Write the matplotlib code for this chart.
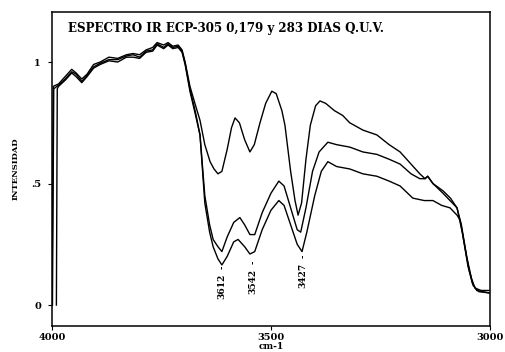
import numpy as np
import matplotlib.pyplot as plt

# wavenumber (cm-1) and intensity
wn_left_a = [4000, 3997, 3985, 3970, 3955, 3945, 3932, 3920, 3905, 3890,
             3870, 3850, 3830, 3815, 3800, 3785, 3770, 3760, 3745, 3735,
             3724, 3712, 3703, 3696, 3685, 3672, 3662]
y_left_a = [0.02, 0.90, 0.91, 0.94, 0.97, 0.955, 0.93, 0.95, 0.99, 1.00,
            1.02, 1.015, 1.03, 1.035, 1.03, 1.05, 1.06, 1.08, 1.07, 1.08,
            1.065, 1.07, 1.05, 1.00, 0.90, 0.82, 0.76]
wn_left_b = [3990, 3988, 3985, 3970, 3955, 3945, 3932, 3920, 3905, 3890,
             3870, 3850, 3830, 3815, 3800, 3785, 3770, 3760, 3745, 3735,
             3724, 3712, 3703, 3696, 3685, 3672, 3662]
y_left_b = [0.0, 0.89, 0.90, 0.925, 0.955, 0.94, 0.915, 0.94, 0.975, 0.99,
            1.005, 1.00, 1.02, 1.02, 1.015, 1.04, 1.045, 1.07, 1.055, 1.07,
            1.055, 1.06, 1.04, 0.99, 0.88, 0.78, 0.70]
wn_left_c = [3999, 3996, 3985, 3970, 3955, 3945, 3932, 3920, 3905, 3890,
             3870, 3850, 3830, 3815, 3800, 3785, 3770, 3760, 3745, 3735,
             3724, 3712, 3703, 3696, 3685, 3672, 3662]
y_left_c = [0.0, 0.89, 0.905, 0.93, 0.96, 0.95, 0.92, 0.945, 0.98, 0.995,
            1.01, 1.01, 1.025, 1.03, 1.02, 1.045, 1.05, 1.075, 1.06, 1.075,
            1.06, 1.065, 1.045, 0.995, 0.89, 0.79, 0.70]

wn_a = [3651, 3639, 3630, 3621, 3612, 3600, 3590, 3582, 3572, 3560,
        3548, 3538, 3525, 3512, 3498, 3488, 3475, 3468, 3455, 3445,
        3438, 3430, 3420, 3410, 3398, 3388, 3375, 3355, 3336, 3320,
        3290, 3258, 3230, 3205, 3180, 3160, 3148, 3142, 3130, 3107,
        3091, 3075, 3065, 3053, 3042, 3034, 3020, 3002]
y_a = [0.66, 0.59, 0.56, 0.54, 0.55, 0.64, 0.73, 0.77, 0.75, 0.68,
       0.63, 0.66, 0.75, 0.83, 0.88, 0.87, 0.80, 0.74, 0.55, 0.43,
       0.37, 0.42, 0.60, 0.74, 0.82, 0.84, 0.83, 0.80, 0.78, 0.75,
       0.72, 0.70, 0.66, 0.63, 0.58, 0.54, 0.52, 0.53, 0.50, 0.46,
       0.43, 0.40, 0.33, 0.20, 0.11, 0.07, 0.06, 0.06]

wn_b = [3651, 3640, 3632, 3621, 3612, 3600, 3585, 3571, 3560, 3548,
        3537, 3520, 3500, 3482, 3470, 3455, 3440, 3432, 3420, 3405,
        3390, 3370, 3350, 3320, 3290, 3258, 3230, 3205, 3180, 3160,
        3148, 3142, 3130, 3107, 3090, 3075, 3063, 3050, 3040, 3030, 3002]
y_b = [0.45, 0.33, 0.27, 0.24, 0.22, 0.28, 0.34, 0.36, 0.33, 0.29,
       0.29, 0.38, 0.46, 0.51, 0.49, 0.40, 0.31, 0.30, 0.40, 0.55,
       0.63, 0.67, 0.66, 0.65, 0.63, 0.62, 0.60, 0.58, 0.54, 0.52,
       0.52, 0.53, 0.50, 0.47, 0.44, 0.40, 0.30, 0.16, 0.09, 0.06, 0.05]

wn_c = [3651, 3640, 3632, 3621, 3612, 3600, 3585, 3575, 3560, 3548,
        3537, 3520, 3500, 3482, 3470, 3455, 3440, 3429, 3418, 3400,
        3385, 3370, 3350, 3320, 3290, 3258, 3230, 3205, 3176, 3150,
        3130, 3110, 3091, 3075, 3068, 3058, 3048, 3038, 3025, 3002]
y_c = [0.42, 0.30, 0.24, 0.19, 0.165, 0.20, 0.26, 0.27, 0.24, 0.21,
       0.22, 0.31, 0.39, 0.43, 0.41, 0.33, 0.25, 0.22, 0.30, 0.45,
       0.55, 0.59, 0.57, 0.56, 0.54, 0.53, 0.51, 0.49, 0.44, 0.43,
       0.43, 0.41, 0.40, 0.37, 0.35, 0.25, 0.15, 0.08, 0.055, 0.05]

band_pos = [3612, 3542, 3427]
band_labels = ["3612", "3542", "3427"]
band_label_top = [0.13, 0.15, 0.175]

x_ticks = [4000, 3500, 3000]
y_ticks = [0, 0.5, 1]
y_tick_labels = ["0", ".5", "1"]

title = "ESPECTRO IR ECP-305 0,179 y 283 DIAS Q.U.V."


def main() -> None:
    fig = plt.figure(figsize=(5.05, 3.52), dpi=100)
    ax = fig.add_axes([0.103, 0.074, 0.867, 0.892])

    font = dict(family="DejaVu Serif", fontweight="bold")

    # three spectra, all thin black
    for wl, yl, w, y in [(wn_left_a, y_left_a, wn_a, y_a),
                         (wn_left_b, y_left_b, wn_b, y_b),
                         (wn_left_c, y_left_c, wn_c, y_c)]:
        ax.plot(wl + w, yl + y, color="black", lw=1.0)

    ax.set_xlim(4000, 3000)
    ax.set_ylim(-0.086, 1.206)

    ax.set_xticks(x_ticks)
    ax.set_xticklabels([str(t) for t in x_ticks], fontsize=7, **font)
    ax.set_yticks(y_ticks)
    ax.set_yticklabels(y_tick_labels, fontsize=7, **font)
    ax.tick_params(direction="out", length=3, width=0.8)
    ax.tick_params(axis="y", pad=5)
    ax.tick_params(axis="x", pad=2)

    for s in ax.spines.values():
        s.set_linewidth(1.1)

    ax.set_ylabel("INTENSIDAD", fontsize=6, **font)
    ax.yaxis.set_label_coords(-0.075, 0.50)

    # axis unit sits at the very bottom edge of the figure
    fig.text(0.538, 0.004, "cm-1", fontsize=6.5, ha="center", va="bottom",
             **font)

    ax.text(0.037, 0.946, title, transform=ax.transAxes, fontsize=8.6,
            ha="left", va="center", **font)

    # band annotations below the minima
    for pos, lab, top in zip(band_pos, band_labels, band_label_top):
        ax.text(pos, top + 0.02, "-", fontsize=6, ha="center", va="bottom",
                rotation=90, **font)
        ax.text(pos, top, lab, fontsize=6.5, ha="center", va="top",
                rotation=90, **font)

    fig.savefig("out.png", dpi=100)


if __name__ == "__main__":
    main()
